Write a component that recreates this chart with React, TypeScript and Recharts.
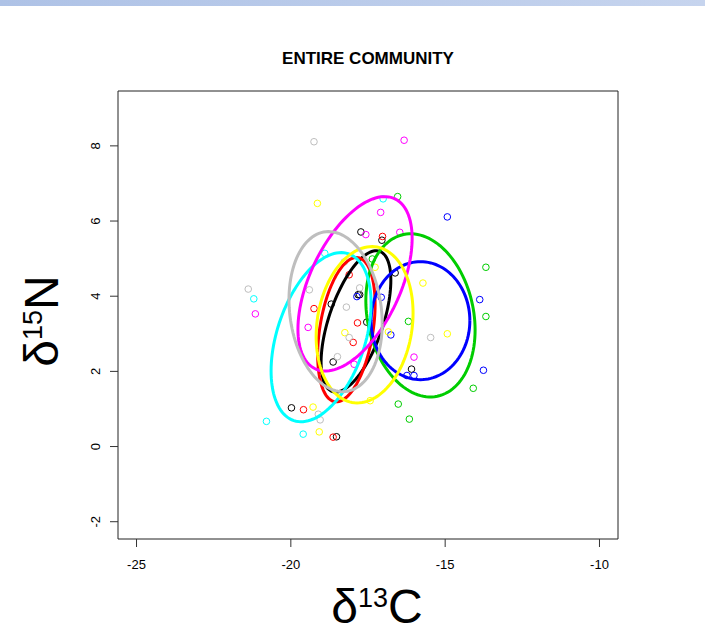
import React from 'react';
import { ScatterChart, Scatter, XAxis, YAxis, ReferenceArea } from 'recharts';

const xTicks = [-25, -20, -15, -10];
const yTicks = [-2, 0, 2, 4, 6, 8];

// isotope values per group [d13C, d15N]
const blackPts = [
  [-17.73, 5.71], [-17.05, 5.49], [-16.62, 4.62], [-17.82, 4.04], [-17.77, 4.04],
  [-18.69, 3.79], [-17.54, 3.31], [-18.63, 2.25], [-16.09, 2.06], [-19.98, 1.03],
  [-18.52, 0.26],
];
const redPts = [
  [-17.03, 5.59], [-18.11, 4.57], [-19.25, 3.67], [-17.84, 3.29], [-17.98, 2.77],
  [-19.59, 0.98], [-18.63, 0.25],
];
const greenPts = [
  [-16.54, 6.65], [-17.36, 4.99], [-13.68, 4.77], [-13.68, 3.46], [-16.19, 3.33],
  [-14.09, 1.55], [-16.52, 1.13], [-16.16, 0.73],
];
const bluePts = [
  [-14.93, 6.11], [-17.86, 3.99], [-17.07, 3.97], [-13.88, 3.91], [-16.76, 2.97],
  [-13.76, 2.03], [-16.24, 1.89], [-16.01, 1.89],
];
const cyanPts = [
  [-17.01, 6.59], [-18.9, 5.14], [-21.2, 3.93], [-20.79, 0.67], [-19.6, 0.33],
];
const magentaPts = [
  [-16.33, 8.15], [-17.09, 6.23], [-17.57, 5.64], [-16.47, 5.7], [-21.15, 3.53],
  [-19.44, 3.17], [-16.01, 2.38], [-17.95, 2.19],
];
const yellowPts = [
  [-19.14, 6.47], [-17.27, 4.77], [-15.72, 4.35], [-18.25, 3.03], [-16.84, 3.05],
  [-14.93, 3.0], [-17.43, 1.22], [-19.28, 1.05], [-19.08, 0.39],
];
const grayPts = [
  [-19.25, 8.11], [-18.27, 4.91], [-21.38, 4.19], [-19.4, 4.17], [-17.77, 4.22],
  [-18.2, 3.71], [-18.11, 2.9], [-15.47, 2.9], [-18.49, 2.39], [-19.11, 0.86],
  [-19.05, 0.71],
];

// ellipse summaries, same group order
const ellipseMeanX = [-17.89, -18.2, -15.8, -15.8, -19.02, -17.92, -17.61, -18.55];
const ellipseMeanY = [3.33, 3.11, 3.49, 3.35, 2.91, 4.33, 3.24, 3.59];
const ellipseHalfX = [1.13, 0.93, 1.77, 1.6, 1.62, 1.85, 1.57, 1.51];
const ellipseHalfY = [1.88, 1.92, 2.17, 1.57, 2.25, 2.32, 2.08, 2.13];
const ellipseRho = [0.58, 0.35, -0.18, 0.0, 0.4, 0.52, 0.15, -0.15];

const groupPoints = [blackPts, redPts, greenPts, bluePts, cyanPts, magentaPts, yellowPts, grayPts];
const groupColours = ['#000000', '#ff0000', '#00cd00', '#0000ff', '#00ffff', '#ff00ff', '#ffff00', '#bebebe'];

const toRows = (pts: number[][]) => pts.map(([x, y]) => ({ x, y }));

const ellipseOutline = (i: number) => {
  const phi = Math.acos(ellipseRho[i]);
  const n = 120;
  return Array.from({ length: n + 1 }, (_, k) => {
    const t = (2 * Math.PI * k) / n;
    return {
      x: ellipseMeanX[i] + ellipseHalfX[i] * Math.cos(t),
      y: ellipseMeanY[i] + ellipseHalfY[i] * Math.cos(t - phi),
    };
  });
};

const FONT = '"Liberation Sans", Arial, sans-serif';

const YTick = (props: any) => {
  const { x, y, payload } = props;
  const tx = x - 13;
  return (
    <text
      x={tx}
      y={y}
      dy="0.35em"
      transform={`rotate(-90, ${tx}, ${y})`}
      textAnchor="middle"
      fontSize={13}
      fontFamily={FONT}
      fill="#000"
    >
      {payload.value}
    </text>
  );
};

const XTick = (props: any) => {
  const { x, y, payload } = props;
  return (
    <text x={x} y={y} dy="0.71em" textAnchor="middle" fontSize={13} fontFamily={FONT} fill="#000">
      {payload.value}
    </text>
  );
};

const ring = (colour: string) => (props: any) =>
  <circle cx={props.cx} cy={props.cy} r={3.3} fill="none" stroke={colour} strokeWidth={1} />;

const App = () => {
  return (
    <div style={{ position: 'absolute', left: 0, top: 0, width: 705, height: 640, background: '#fff' }}>
      <div
        style={{
          position: 'absolute', left: 0, top: 0, width: 705, height: 6,
          background: 'linear-gradient(to right, #aec2e6, #c6d4ee)',
        }}
      />
      <ScatterChart width={705} height={640} margin={{ top: 91, right: 87, bottom: 61, left: 78 }}>
        <XAxis
          type="number"
          dataKey="x"
          domain={[-25.6, -9.4]}
          ticks={xTicks}
          allowDataOverflow
          height={40}
          axisLine={false}
          tickSize={8}
          tickMargin={13}
          tickLine={{ stroke: '#333' }}
          tick={<XTick />}
        />
        <YAxis
          type="number"
          dataKey="y"
          domain={[-2.46, 9.46]}
          ticks={yTicks}
          allowDataOverflow
          width={40}
          axisLine={false}
          tickSize={8}
          tickLine={{ stroke: '#333' }}
          tick={<YTick />}
        />
        <ReferenceArea x1={-25.6} x2={-9.4} y1={-2.46} y2={9.46} fill="none" stroke="#222" strokeWidth={1} fillOpacity={0} />
        {groupPoints.map((pts, i) => (
          <Scatter
            key={`p${i}`}
            data={toRows(pts)}
            shape={ring(groupColours[i])}
            isAnimationActive={false}
          />
        ))}
        {groupColours.map((c, i) => (
          <Scatter
            key={`e${i}`}
            data={ellipseOutline(i)}
            line={{ stroke: c, strokeWidth: 3 }}
            shape={() => <g />}
            isAnimationActive={false}
          />
        ))}
      </ScatterChart>
      <svg
        width={705}
        height={640}
        style={{ position: 'absolute', left: 0, top: 0, pointerEvents: 'none' }}
        fontFamily={FONT}
      >
        <text x={368} y={64} textAnchor="middle" fontWeight="bold" fontSize={17} fill="#000">
          ENTIRE COMMUNITY
        </text>
        <text x={377} y={623} textAnchor="middle" fontSize={48} fill="#000">
          δ<tspan fontSize={27} dy={-16}>13</tspan><tspan dy={16}>C</tspan>
        </text>
        <text x={58} y={321} textAnchor="middle" fontSize={48} fill="#000" transform="rotate(-90, 58, 321)">
          δ<tspan fontSize={27} dy={-16}>15</tspan><tspan dy={16}>N</tspan>
        </text>
      </svg>
    </div>
  );
};

export default App;
